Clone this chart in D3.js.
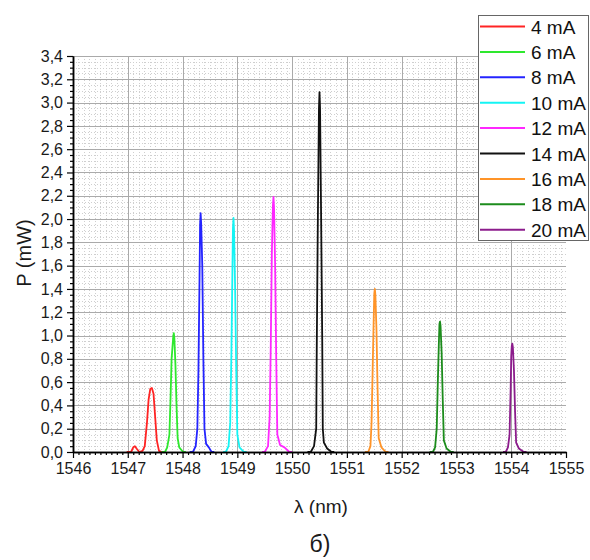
<!DOCTYPE html>
<html>
<head>
<meta charset="utf-8">
<script src="https://cdn.jsdelivr.net/npm/d3@7"></script>
<style>
  html, body { margin: 0; padding: 0; background: #ffffff; }
  svg { display: block; font-family: Arial, "Liberation Sans", sans-serif; }
</style>
</head>
<body>
<svg id="chart" width="590" height="560"></svg>
<script>
// ---------------- data ----------------
const seriesLabels = ["4 mA", "6 mA", "8 mA", "10 mA", "12 mA", "14 mA", "16 mA", "18 mA", "20 mA"];
const seriesColors = ["#ff2424", "#2ee82e", "#2424ff", "#14f4f4", "#ff28ff", "#111111", "#ff9428", "#1c8c1c", "#8c1c8c"];

const wl4  = [1546.98, 1547.06, 1547.10, 1547.13, 1547.16, 1547.21, 1547.27, 1547.31, 1547.35, 1547.38, 1547.41, 1547.44, 1547.47, 1547.50, 1547.53, 1547.57, 1547.62];
const p4   = [0, 0.00, 0.04, 0.05, 0.03, 0.00, 0.01, 0.05, 0.25, 0.45, 0.54, 0.55, 0.50, 0.30, 0.10, 0.01, 0];

const wl6  = [1547.62, 1547.68, 1547.72, 1547.76, 1547.78, 1547.80, 1547.83, 1547.84, 1547.85, 1547.87, 1547.89, 1547.91, 1547.94, 1548.01, 1548.06];
const p6   = [0, 0, 0.04, 0.15, 0.45, 0.80, 0.99, 1.02, 0.98, 0.75, 0.40, 0.12, 0.04, 0, 0];

const wl8  = [1548.13, 1548.19, 1548.24, 1548.27, 1548.29, 1548.31, 1548.32, 1548.33, 1548.34, 1548.36, 1548.38, 1548.40, 1548.43, 1548.48, 1548.53, 1548.58];
const p8   = [0, 0, 0.05, 0.20, 0.70, 1.50, 1.95, 2.05, 1.96, 1.60, 0.80, 0.20, 0.07, 0.04, 0, 0];

const wl10 = [1548.74, 1548.79, 1548.84, 1548.87, 1548.89, 1548.91, 1548.92, 1548.93, 1548.94, 1548.96, 1548.98, 1549.00, 1549.04, 1549.12, 1549.17];
const p10  = [0, 0, 0.05, 0.25, 0.80, 1.55, 1.92, 2.01, 1.90, 1.40, 0.70, 0.15, 0.04, 0, 0];

const wl12 = [1549.45, 1549.50, 1549.56, 1549.59, 1549.61, 1549.63, 1549.65, 1549.66, 1549.67, 1549.69, 1549.71, 1549.73, 1549.78, 1549.86, 1549.95, 1550.00];
const p12  = [0, 0, 0.05, 0.30, 0.90, 1.70, 2.12, 2.19, 2.10, 1.60, 0.80, 0.15, 0.06, 0.04, 0, 0];

const wl14 = [1550.28, 1550.34, 1550.40, 1550.44, 1550.45, 1550.47, 1550.49, 1550.50, 1550.51, 1550.53, 1550.55, 1550.56, 1550.58, 1550.64, 1550.72, 1550.77];
const p14  = [0, 0, 0.05, 0.20, 0.90, 2.00, 2.95, 3.09, 2.95, 2.00, 0.95, 0.20, 0.08, 0.03, 0, 0];

const wl16 = [1551.33, 1551.39, 1551.43, 1551.45, 1551.47, 1551.49, 1551.50, 1551.51, 1551.52, 1551.54, 1551.56, 1551.58, 1551.63, 1551.71, 1551.76];
const p16  = [0, 0, 0.05, 0.25, 0.70, 1.15, 1.36, 1.40, 1.35, 1.05, 0.55, 0.12, 0.04, 0, 0];

const wl18 = [1552.51, 1552.57, 1552.61, 1552.64, 1552.66, 1552.68, 1552.69, 1552.70, 1552.71, 1552.73, 1552.75, 1552.77, 1552.82, 1552.90, 1552.95];
const p18  = [0, 0, 0.04, 0.20, 0.60, 0.95, 1.10, 1.12, 1.08, 0.85, 0.45, 0.10, 0.03, 0, 0];

const wl20 = [1553.85, 1553.90, 1553.94, 1553.97, 1553.99, 1554.00, 1554.01, 1554.02, 1554.03, 1554.05, 1554.07, 1554.09, 1554.14, 1554.23, 1554.28];
const p20  = [0, 0, 0.04, 0.15, 0.55, 0.82, 0.91, 0.93, 0.90, 0.70, 0.35, 0.08, 0.03, 0, 0];

const xTickValues = [1546, 1547, 1548, 1549, 1550, 1551, 1552, 1553, 1554, 1555];
const yTickValues = [0, 0.2, 0.4, 0.6, 0.8, 1.0, 1.2, 1.4, 1.6, 1.8, 2.0, 2.2, 2.4, 2.6, 2.8, 3.0, 3.2, 3.4];
const xTitle = "λ (nm)";
const yTitle = "P (mW)";
const caption = "б)";

const wavelengths = [wl4, wl6, wl8, wl10, wl12, wl14, wl16, wl18, wl20];
const powers = [p4, p6, p8, p10, p12, p14, p16, p18, p20];

// ---------------- layout ----------------
const svg = d3.select("#chart");
const L = 73, R = 566, T = 56, B = 452;
const x = d3.scaleLinear().domain([1546, 1555]).range([L, R]);
const y = d3.scaleLinear().domain([0, 3.4]).range([B, T]);

// minor grid (dotted)
const xMinor = d3.range(0, 91).map(i => 1546 + i * 0.1).filter((v, i) => i % 10 !== 0);
const yMinor = d3.range(0, 69).map(i => i * 0.05).filter((v, i) => i % 4 !== 0);
const g = svg.append("g");
g.selectAll(".mx").data(xMinor).enter().append("line")
  .attr("x1", d => Math.round(x(d)) + 0.5).attr("x2", d => Math.round(x(d)) + 0.5)
  .attr("y1", T).attr("y2", B)
  .attr("stroke", "#cfcfcf").attr("stroke-width", 1).attr("stroke-dasharray", "1,2");
g.selectAll(".my").data(yMinor).enter().append("line")
  .attr("y1", d => Math.round(y(d)) + 0.5).attr("y2", d => Math.round(y(d)) + 0.5)
  .attr("x1", L).attr("x2", R)
  .attr("stroke", "#cfcfcf").attr("stroke-width", 1).attr("stroke-dasharray", "1,2");
// major grid
g.selectAll(".gx").data(xTickValues.slice(1, -1)).enter().append("line")
  .attr("x1", d => Math.round(x(d)) + 0.5).attr("x2", d => Math.round(x(d)) + 0.5)
  .attr("y1", T).attr("y2", B)
  .attr("stroke", "#aaaaaa").attr("stroke-width", 1);
g.selectAll(".gy").data(yTickValues.slice(1)).enter().append("line")
  .attr("y1", d => Math.round(y(d)) + 0.5).attr("y2", d => Math.round(y(d)) + 0.5)
  .attr("x1", L).attr("x2", R)
  .attr("stroke", "#aaaaaa").attr("stroke-width", 1);

// series
const line = d3.line().x(d => x(d[0])).y(d => y(d[1]));
wavelengths.forEach((wl, i) => {
  const pts = wl.map((w, j) => [w, powers[i][j]]);
  svg.append("path").datum(pts)
    .attr("d", line)
    .attr("fill", "none")
    .attr("stroke", seriesColors[i])
    .attr("stroke-width", 1.8)
    .attr("stroke-linejoin", "round");
});

// axes
const fmt = d => d.toFixed(1).replace(".", ",");
const xAxis = svg.append("g").attr("transform", `translate(0,${B})`)
  .call(d3.axisBottom(x).tickValues(xTickValues).tickSize(6).tickSizeOuter(0).tickPadding(5).tickFormat(d3.format("d")));
const xAxisMinor = svg.append("g").attr("transform", `translate(0,${B})`)
  .call(d3.axisBottom(x).tickValues(xMinor).tickSize(3).tickSizeOuter(0).tickFormat(""));
const yAxis = svg.append("g").attr("transform", `translate(${L},0)`)
  .call(d3.axisLeft(y).tickValues(yTickValues).tickSize(6).tickSizeOuter(0).tickPadding(4).tickFormat(fmt));
const yAxisMinor = svg.append("g").attr("transform", `translate(${L},0)`)
  .call(d3.axisLeft(y).tickValues(yMinor).tickSize(3).tickSizeOuter(0).tickFormat(""));

[xAxis, xAxisMinor, yAxis, yAxisMinor].forEach(a => {
  a.select(".domain").attr("stroke", "#000").attr("stroke-width", 1.5);
  a.selectAll(".tick line").attr("stroke", "#000").attr("stroke-width", 1.2);
  a.selectAll("text").attr("fill", "#1a1a1a").style("font-size", "16px").style("font-family", "Arial, 'Liberation Sans', sans-serif");
});

// titles
svg.append("text").attr("x", 321).attr("y", 513).attr("text-anchor", "middle")
  .style("font-size", "19px").attr("fill", "#1a1a1a").text(xTitle);
svg.append("text").attr("transform", "translate(31,253) rotate(-90)").attr("text-anchor", "middle")
  .style("font-size", "20px").attr("fill", "#1a1a1a").text(yTitle);
svg.append("text").attr("x", 320).attr("y", 552).attr("text-anchor", "middle")
  .style("font-size", "23px").attr("fill", "#1a1a1a").text(caption);

// legend
const lg = svg.append("g");
lg.append("rect").attr("x", 478.5).attr("y", 15.5).attr("width", 110).attr("height", 225)
  .attr("fill", "#fff").attr("stroke", "#666").attr("stroke-width", 1);
seriesLabels.forEach((lab, i) => {
  const yy = 26.5 + i * 25.4;
  lg.append("line").attr("x1", 480).attr("x2", 525).attr("y1", yy).attr("y2", yy)
    .attr("stroke", seriesColors[i]).attr("stroke-width", 2);
  lg.append("text").attr("x", 531).attr("y", yy + 7).style("font-size", "19px")
    .attr("fill", "#111").text(lab);
});
</script>
</body>
</html>
